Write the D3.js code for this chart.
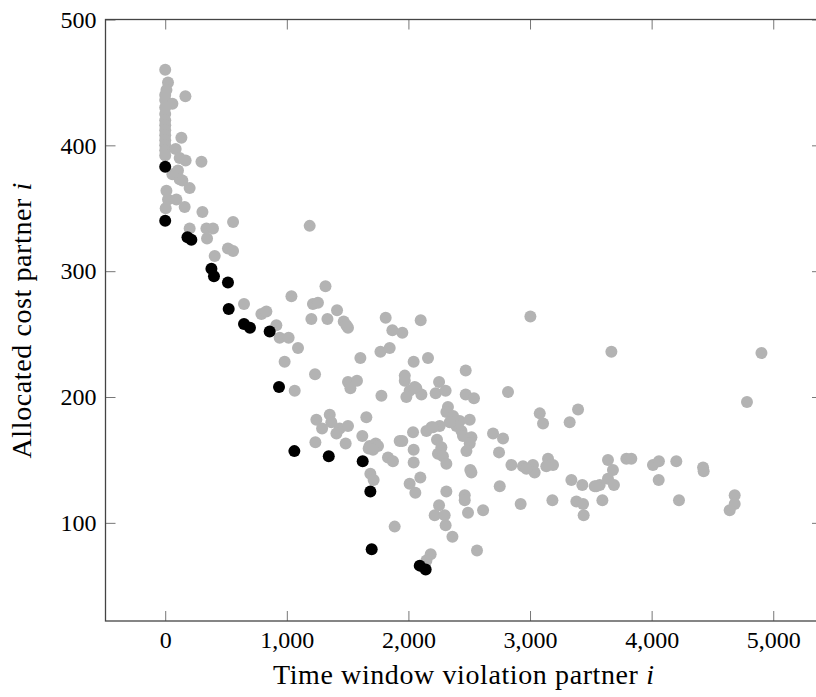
<!DOCTYPE html>
<html>
<head>
<meta charset="utf-8">
<script src="https://cdn.jsdelivr.net/npm/d3@7"></script>
<style>
  html, body { margin: 0; padding: 0; background: #fff; overflow: hidden; }
  svg { display: block; }
  text { font-family: "Liberation Serif", "DejaVu Serif", serif; fill: #000; }
</style>
</head>
<body>
<svg id="chart" width="816" height="697"></svg>
<script>
// ---- data ----
const xTicks = [0, 1000, 2000, 3000, 4000, 5000];
const yTicks = [100, 200, 300, 400, 500];
const xTitle = "Time window violation partner ";
const yTitle = "Allocated cost partner ";

// other partners (gray): [time window violation, allocated cost]
const otherPartners = [
  [0,460],[23,450],[10,444],[0,440],[0,436],[59,433],[166,439],[0,430],[0,425],[0,420],[0,416],[0,412],[0,408],[0,404],
  [133,406],[0,400],[0,396],[86,397],[0,392],[119,390],[168,388],[298,387],[105,380],[59,377],[119,373],[141,372],
  [201,366],[10,364],[23,357],[92,357],[160,351],[4,350],[306,347],[558,339],[201,334],[339,334],[393,334],[344,326],[1188,336],
  [407,312],[516,318],[558,316],[648,274],[791,266],[832,268],[914,257],[941,247],[1015,247],[1038,280],[1092,239],[982,228],
  [1065,205],[1215,274],[1256,275],[1318,288],[1413,269],[1202,262],[1334,262],[1468,260],[1503,255],[1490,257],[1813,263],
  [1868,253],[1950,251],[2101,261],[1605,231],[1770,236],[1846,239],[1232,218],[1503,212],[1577,213],[1523,207],[1778,201],
  [1243,182],[1353,186],[1366,180],[1290,175],[1435,175],[1503,177],[1408,171],[1654,184],[1621,169],[1681,161],[1731,163],
  [1750,161],[1709,158],[1673,159],[1235,164],[1484,163],[1928,165],
  [1832,152],[1873,149],[1687,139],[1714,134],[1950,165],[2038,172],[2043,158],[2043,148],[2098,136],[2010,131],[2057,124],
  [1887,97],[2183,75],[2148,70],
  [1970,213],[2010,205],[2065,207],[1983,200],[2107,202],[2224,203],[2306,205],[2471,202],[2252,212],[1970,217],[2043,228],
  [2161,231],[2471,221],[2052,208],[2539,199],[2819,204],
  [2325,192],[2312,188],[2367,185],[2422,181],[2504,182],[2189,176],[2148,173],[2257,177],[2394,177],[2436,173],[2449,169],
  [2518,168],[2504,163],[2477,157],[2235,166],[2271,160],[2243,155],[2284,153],[2312,147],[2202,176],[2340,180],
  [2509,142],[2518,140],[2696,171],[2778,167],[2745,156],[2847,146],[2942,145],[3024,146],[3038,140],[2970,143],[3148,151],
  [3189,146],[3134,145],[3080,187],[3107,179],[3395,190],[3326,180],
  [2751,129],[2923,115],[3184,118],[3340,134],[3430,130],[3532,129],[3381,117],[3436,115],[3441,106],[2312,125],[2463,122],
  [2463,118],[2490,108],[2614,110],[2252,114],[2216,106],[2298,106],[2306,98],[2362,89],[2564,78],
  [3003,264],[3669,236],[4903,235],[4784,196],[3641,150],[3682,142],[3641,135],[3690,130],[3595,118],[3573,130],[3792,151],
  [3833,151],[4011,146],[4060,149],[4058,134],[4203,149],[4225,118],[4423,144],[4428,141],[4683,122],[4683,115],[4642,110],[3545,129]
];

// highlighted partners (black)
const highlightedPartners = [
  [0,383],[0,340],[183,327],[215,325],[380,302],[401,296],[516,291],[522,270],[648,258],[697,255],[859,252],
  [936,208],[1062,157],[1345,153],[1624,149],[1687,125],[1698,79],[2093,66],[2142,63]
];

// ---- layout ----
const svg = d3.select("#chart");
const plot = { left: 105.5, top: 19.5, right: 822, bottom: 621 };
const x = d3.scaleLinear().domain([-491, 5401]).range([plot.left, plot.right]);
const y = d3.scaleLinear().domain([22, 500]).range([plot.bottom, plot.top]);
const tickLen = 10;
const fmt = d3.format(",");

// points
svg.append("g").selectAll("circle").data(otherPartners).join("circle")
  .attr("cx", d => x(d[0])).attr("cy", d => y(d[1])).attr("r", 6)
  .attr("fill", "#b3b3b3");
svg.append("g").selectAll("circle").data(highlightedPartners).join("circle")
  .attr("cx", d => x(d[0])).attr("cy", d => y(d[1])).attr("r", 6)
  .attr("fill", "#000");

// axes with inward ticks
const bottomAxis = d3.axisBottom(x).tickValues(xTicks).tickFormat(fmt).tickSizeInner(-tickLen).tickSizeOuter(0).tickPadding(10);
const topAxis = d3.axisTop(x).tickValues(xTicks).tickFormat("").tickSizeInner(-tickLen).tickSizeOuter(0);
const leftAxis = d3.axisLeft(y).tickValues(yTicks).tickFormat(d3.format("d")).tickSizeInner(-tickLen).tickSizeOuter(0).tickPadding(9);
const rightAxis = d3.axisRight(y).tickValues(yTicks).tickFormat("").tickSizeInner(-tickLen).tickSizeOuter(0);

function style(g) {
  g.select(".domain").remove();
  g.selectAll(".tick line").attr("stroke", "#777").attr("stroke-width", 1);
  g.selectAll(".tick text").attr("font-family", "Liberation Serif, serif").attr("font-size", 24).attr("fill", "#000");
}
svg.append("g").attr("transform", `translate(0,${plot.bottom})`).call(bottomAxis).call(style);
svg.append("g").attr("transform", `translate(0,${plot.top})`).call(topAxis).call(style);
svg.append("g").attr("transform", `translate(${plot.left},0)`).call(leftAxis).call(style);
svg.append("g").attr("transform", `translate(${plot.right},0)`).call(rightAxis).call(style);

// frame
svg.append("rect")
  .attr("x", plot.left).attr("y", plot.top)
  .attr("width", plot.right - plot.left).attr("height", plot.bottom - plot.top)
  .attr("fill", "none").attr("stroke", "#444").attr("stroke-width", 1.3);

// axis titles
const xt = svg.append("text")
  .attr("x", (plot.left + plot.right) / 2).attr("y", 684)
  .attr("text-anchor", "middle").attr("font-size", 28).attr("letter-spacing", 0.6);
xt.append("tspan").text(xTitle);
xt.append("tspan").attr("font-style", "italic").text("i");

const yt = svg.append("text")
  .attr("transform", `translate(31,${(plot.top + plot.bottom) / 2}) rotate(-90)`)
  .attr("text-anchor", "middle").attr("font-size", 28).attr("letter-spacing", 0.6);
yt.append("tspan").text(yTitle);
yt.append("tspan").attr("font-style", "italic").text("i");
</script>
</body>
</html>
